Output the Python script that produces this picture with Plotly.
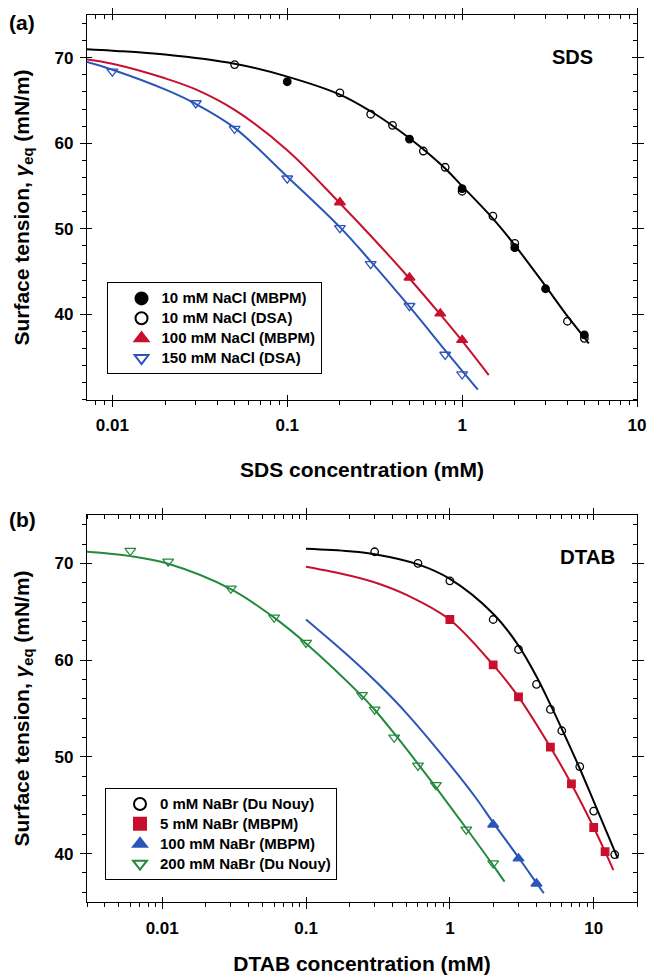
import math
import plotly.graph_objects as go

# ---------------- Panel (a): SDS ----------------
sds_mbpm10_x = [0.1, 0.5, 1.0, 2.0, 3.0, 5.0]
sds_mbpm10_y = [67.2, 60.5, 54.7, 47.8, 43.0, 37.6]
sds_dsa10_x = [0.05, 0.2, 0.3, 0.4, 0.6, 0.8, 1.0, 1.5, 2.0, 4.0, 5.0]
sds_dsa10_y = [69.2, 65.9, 63.4, 62.1, 59.1, 57.2, 54.4, 51.5, 48.3, 39.2, 37.2]
sds_mbpm100_x = [0.2, 0.5, 0.75, 1.0]
sds_mbpm100_y = [53.1, 44.3, 40.1, 37.0]
sds_dsa150_x = [0.01, 0.03, 0.05, 0.1, 0.2, 0.3, 0.5, 0.8, 1.0]
sds_dsa150_y = [68.4, 64.7, 61.7, 55.9, 50.1, 45.9, 41.0, 35.3, 33.0]

fit_a_black_x = [0.00716, 0.01, 0.02, 0.05, 0.1, 0.2, 0.3, 0.4, 0.5, 0.6, 0.8, 1.0, 1.5, 2.0, 3.0, 4.0, 5.0, 5.3]
fit_a_black_y = [71.0, 70.83, 70.38, 69.3, 67.8, 65.7, 63.75, 62.06, 60.6, 59.3, 57.05, 55.0, 51.2, 48.1, 43.3, 39.8, 37.3, 36.6]
fit_a_red_x = [0.00716, 0.01, 0.02, 0.03, 0.05, 0.1, 0.2, 0.3, 0.5, 0.75, 1.0, 1.42]
fit_a_red_y = [69.8, 69.3, 67.6, 66.3, 63.9, 59.2, 53.0, 49.2, 44.2, 40.0, 36.9, 32.9]
fit_a_blue_x = [0.00716, 0.01, 0.02, 0.03, 0.05, 0.1, 0.2, 0.3, 0.5, 0.8, 1.0, 1.23]
fit_a_blue_y = [69.5, 68.6, 66.3, 64.6, 61.8, 56.1, 50.2, 46.2, 40.9, 35.8, 33.4, 31.2]

# ---------------- Panel (b): DTAB ----------------
dtab_0_x = [0.3, 0.6, 1.0, 2.0, 3.0, 4.0, 5.0, 6.0, 8.0, 10.0, 14.0]
dtab_0_y = [71.2, 70.0, 68.2, 64.2, 61.1, 57.5, 54.9, 52.7, 49.0, 44.4, 39.9]
dtab_5_x = [1.0, 2.0, 3.0, 5.0, 7.0, 10.0, 12.0]
dtab_5_y = [64.2, 59.5, 56.2, 51.0, 47.2, 42.7, 40.2]
dtab_100_x = [2.0, 3.0, 4.0]
dtab_100_y = [43.0, 39.5, 36.9]
dtab_200_x = [0.006, 0.011, 0.03, 0.06, 0.1, 0.245, 0.3, 0.41, 0.6, 0.8, 1.3, 2.0]
dtab_200_y = [71.3, 70.2, 67.4, 64.4, 61.8, 56.4, 54.9, 52.0, 49.1, 47.1, 42.5, 39.0]

fit_b_black_x = [0.1, 0.2, 0.3, 0.6, 1.0, 2.0, 3.0, 4.0, 5.0, 6.0, 8.0, 10.0, 14.7]
fit_b_black_y = [71.5, 71.25, 70.95, 69.9, 68.4, 64.8, 61.5, 58.3, 55.4, 52.9, 48.8, 45.4, 39.5]
fit_b_red_x = [0.1, 0.2, 0.32, 0.5, 1.0, 2.0, 3.0, 5.0, 7.0, 10.0, 12.0, 13.7]
fit_b_red_y = [69.65, 68.75, 67.9, 66.74, 64.18, 59.5, 56.2, 51.0, 47.2, 42.7, 40.2, 38.3]
fit_b_blue_x = [0.1, 0.2, 0.32, 0.5, 1.0, 1.5, 2.0, 3.0, 4.0, 4.5]
fit_b_blue_y = [64.2, 60.35, 57.5, 54.5, 49.2, 45.85, 43.2, 39.6, 36.97, 35.9]
fit_b_green_x = [0.003, 0.006, 0.011, 0.03, 0.06, 0.1, 0.245, 0.3, 0.41, 0.6, 0.8, 1.3, 2.0, 2.4]
fit_b_green_y = [71.2, 70.75, 69.96, 67.34, 64.39, 61.73, 56.28, 54.87, 52.42, 49.28, 46.84, 42.62, 38.79, 37.1]

x_range_a = [0.00716, 10]
y_range_a = [30, 75]
x_range_b = [0.003, 20]
y_range_b = [35, 75]
y_ticks = [40, 50, 60, 70]

BLACK = "#000000"
RED = "#C8102E"
BLUE = "#2B55B8"
GREEN = "#24893E"
FONT = "Liberation Sans, Arial, sans-serif"

fig = go.Figure()


def fit(x, y, color, xa, ya):
    fig.add_trace(go.Scatter(x=x, y=y, mode="lines",
                             line=dict(color=color, width=2, shape="spline", smoothing=1.0),
                             xaxis=xa, yaxis=ya, showlegend=False, hoverinfo="skip"))


SIZES = {"circle": 7.5, "square": 7.5, "triangle-up": 9.5, "triangle-down": 9.5}


def pts(x, y, name, symbol, color, filled, xa, ya, legend):
    fig.add_trace(go.Scatter(
        x=x, y=y, mode="markers", xaxis=xa, yaxis=ya, legend=legend,
        name='<span style="font-size:15px">' + name + '</span>',
        marker=dict(symbol=symbol, size=SIZES[symbol],
                    color=color if filled else "rgba(0,0,0,0)",
                    line=dict(color=color, width=1.3))))


# panel a
fit(fit_a_black_x, fit_a_black_y, BLACK, "x", "y")
fit(fit_a_red_x, fit_a_red_y, RED, "x", "y")
fit(fit_a_blue_x, fit_a_blue_y, BLUE, "x", "y")
pts(sds_mbpm10_x, sds_mbpm10_y, "10 mM NaCl (MBPM)", "circle", BLACK, True, "x", "y", "legend")
pts(sds_dsa10_x, sds_dsa10_y, "10 mM NaCl (DSA)", "circle", BLACK, False, "x", "y", "legend")
pts(sds_mbpm100_x, sds_mbpm100_y, "100 mM NaCl (MBPM)", "triangle-up", RED, True, "x", "y", "legend")
pts(sds_dsa150_x, sds_dsa150_y, "150 mM NaCl (DSA)", "triangle-down", BLUE, False, "x", "y", "legend")

# panel b
fit(fit_b_black_x, fit_b_black_y, BLACK, "x2", "y2")
fit(fit_b_red_x, fit_b_red_y, RED, "x2", "y2")
fit(fit_b_blue_x, fit_b_blue_y, BLUE, "x2", "y2")
fit(fit_b_green_x, fit_b_green_y, GREEN, "x2", "y2")
pts(dtab_0_x, dtab_0_y, "0 mM NaBr (Du Nouy)", "circle", BLACK, False, "x2", "y2", "legend2")
pts(dtab_5_x, dtab_5_y, "5 mM NaBr (MBPM)", "square", RED, True, "x2", "y2", "legend2")
pts(dtab_100_x, dtab_100_y, "100 mM NaBr (MBPM)", "triangle-up", BLUE, True, "x2", "y2", "legend2")
pts(dtab_200_x, dtab_200_y, "200 mM NaBr (Du Nouy)", "triangle-down", GREEN, False, "x2", "y2", "legend2")

# invisible helper traces so that the overlay tick axes are drawn
for xa, ya in [("x3", "y"), ("x4", "y"), ("x", "y3"), ("x", "y4"),
               ("x5", "y2"), ("x6", "y2"), ("x2", "y5"), ("x2", "y6")]:
    fig.add_trace(go.Scatter(x=[], y=[], xaxis=xa, yaxis=ya, showlegend=False, hoverinfo="skip"))

TICKFONT = dict(family=FONT, size=17, color="black", weight="bold")
TITLEFONT = dict(family=FONT, size=21, color="black", weight="bold")

top_dom = [0.566, 1.0]
bot_dom = [0.0, 0.4363]


def xlog(rng):
    return [math.log10(rng[0]), math.log10(rng[1])]


def xmain(rng, anchor, title):
    return dict(type="log", range=xlog(rng), domain=[0, 1], anchor=anchor, automargin=False,
                showgrid=False, zeroline=False, showline=True, linecolor="black", linewidth=1.2,
                mirror=True, ticks="outside", ticklen=6, tickwidth=1.2, tickcolor="black",
                tick0=0, dtick=1, tickfont=TICKFONT, ticklabelstandoff=4,
                minor=dict(ticks="outside", ticklen=4, tickwidth=1, tickcolor="black", dtick="D1", showgrid=False),
                title=dict(text=title, font=TITLEFONT, standoff=27))


def xover(rng, base, anchor, side, ticks, minor_ticks):
    d = dict(type="log", range=xlog(rng), overlaying=base, anchor=anchor, side=side, automargin=False,
             showgrid=False, zeroline=False, showline=False, showticklabels=False,
             ticks=ticks, ticklen=5 if ticks == "inside" else 6, tickwidth=1.2, tickcolor="black",
             tick0=0, dtick=1)
    if side == "bottom":
        d["mirror"] = "ticks"
    if minor_ticks:
        d["minor"] = dict(ticks=minor_ticks, ticklen=4, tickwidth=1, tickcolor="black", dtick="D1", showgrid=False)
    return d


def ymain(rng, dom, anchor, minor0):
    return dict(range=rng, domain=dom, anchor=anchor, automargin=False, showgrid=False, zeroline=False,
                showline=True, linecolor="black", linewidth=1.2, mirror=True,
                ticks="outside", ticklen=6, tickwidth=1.2, tickcolor="black",
                tickmode="array", tickvals=y_ticks, tickfont=TICKFONT, ticklabelstandoff=3,
                minor=dict(ticks="outside", ticklen=4, tickwidth=1, tickcolor="black",
                           tick0=minor0, dtick=2, showgrid=False),
                title=dict(text="Surface tension, <i>γ</i><sub>eq</sub> (mN/m)", font=TITLEFONT, standoff=19))


def yover(rng, base, anchor, side, ticks, minor_ticks, minor0):
    d = dict(range=rng, overlaying=base, anchor=anchor, side=side, automargin=False,
             showgrid=False, zeroline=False,
             showline=False, showticklabels=False, ticks=ticks,
             ticklen=5 if ticks == "inside" else 6, tickwidth=1.2, tickcolor="black",
             tickmode="array", tickvals=y_ticks)
    if side == "left":
        d["mirror"] = "ticks"
    if minor_ticks:
        d["minor"] = dict(ticks=minor_ticks, ticklen=4, tickwidth=1, tickcolor="black",
                          tick0=minor0, dtick=2, showgrid=False)
    return d


LEGFONT = dict(family=FONT, size=13, color="black", weight="bold")

fig.update_layout(
    width=648, height=975,
    margin=dict(l=87, r=11, t=15, b=73),
    paper_bgcolor="white", plot_bgcolor="white",
    font=dict(family=FONT, color="black"),
    xaxis=xmain(x_range_a, "y", "SDS concentration (mM)"),
    yaxis=ymain(y_range_a, top_dom, "x", 30),
    xaxis2=xmain(x_range_b, "y2", "DTAB concentration (mM)"),
    yaxis2=ymain(y_range_b, bot_dom, "x2", 36),
    xaxis3=xover(x_range_a, "x", "y", "bottom", "inside", None),
    xaxis4=xover(x_range_a, "x", "y", "top", "outside", "inside"),
    yaxis3=yover(y_range_a, "y", "x", "left", "inside", None, 30),
    yaxis4=yover(y_range_a, "y", "x", "right", "outside", "inside", 30),
    xaxis5=xover(x_range_b, "x2", "y2", "bottom", "inside", None),
    xaxis6=xover(x_range_b, "x2", "y2", "top", "outside", "inside"),
    yaxis5=yover(y_range_b, "y2", "x2", "left", "inside", None, 36),
    yaxis6=yover(y_range_b, "y2", "x2", "right", "outside", "inside", 36),
    legend=dict(x=0.0355, y=0.6985, xanchor="left", yanchor="top",
                bordercolor="black", borderwidth=1, bgcolor="white",
                font=LEGFONT, tracegroupgap=0, itemsizing="constant", indentation=14),
    legend2=dict(x=0.0327, y=0.1285, xanchor="left", yanchor="top",
                 bordercolor="black", borderwidth=1, bgcolor="white",
                 font=LEGFONT, tracegroupgap=0, itemsizing="constant", indentation=14),
    showlegend=True,
    annotations=[
        dict(text="(a)", x=-0.118, y=0.992, xref="paper", yref="paper", showarrow=False,
             xanchor="center", yanchor="middle", font=dict(family=FONT, size=21, weight="bold")),
        dict(text="(b)", x=-0.118, y=0.4307, xref="paper", yref="paper", showarrow=False,
             xanchor="center", yanchor="middle", font=dict(family=FONT, size=21, weight="bold")),
        dict(text="SDS", x=0.8836, y=0.9526, xref="paper", yref="paper", showarrow=False,
             xanchor="center", yanchor="middle", font=dict(family=FONT, size=20, weight="bold")),
        dict(text="DTAB", x=0.91, y=0.389, xref="paper", yref="paper", showarrow=False,
             xanchor="center", yanchor="middle", font=dict(family=FONT, size=20.5, weight="bold")),
    ],
)

fig.write_html("out.html")
